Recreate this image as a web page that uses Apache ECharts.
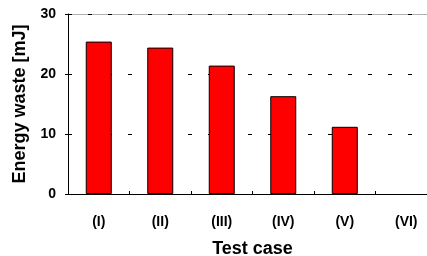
<!DOCTYPE html>
<html>
<head>
<meta charset="utf-8">
<script src="https://cdn.jsdelivr.net/npm/echarts@6/dist/echarts.min.js"></script>
<style>
  html, body { margin: 0; padding: 0; background: #fff; }
  #chart { width: 427px; height: 256px; }
</style>
</head>
<body>
<div id="chart"></div>
<script>
const categories = ['(I)', '(II)', '(III)', '(IV)', '(V)', '(VI)'];
const energyWaste = [25.4, 24.4, 21.4, 16.3, 11.2, 0];
const yTicks = { min: 0, max: 30, interval: 10 };

const font = "'Liberation Sans', Arial, sans-serif";

const chart = echarts.init(document.getElementById('chart'));

// zero-height bars get no outline (case VI shows nothing)
const barData = energyWaste.map(v => v === 0
  ? { value: v, itemStyle: { borderWidth: 0 } }
  : v);

const option = {
  animation: false,
  grid: {
    left: 68,
    top: 14,
    bottom: 62,
    width: 369, // plot runs past the right edge of the picture
    outerBoundsMode: 'none'
  },
  xAxis: {
    type: 'category',
    data: categories,
    name: 'Test case',
    nameLocation: 'middle',
    nameGap: 46,
    nameTextStyle: { fontFamily: font, fontWeight: 'bold', fontSize: 18, color: '#000' },
    axisLine: { lineStyle: { color: '#000', width: 1 } },
    axisTick: { show: true, inside: true, length: 3, alignWithLabel: false, lineStyle: { color: '#000' } },
    axisLabel: { fontFamily: font, fontWeight: 'bold', fontSize: 14, color: '#000', margin: 21 },
    splitLine: { show: false }
  },
  yAxis: {
    type: 'value',
    min: yTicks.min,
    max: yTicks.max,
    interval: yTicks.interval,
    name: 'Energy waste [mJ]',
    nameLocation: 'middle',
    nameGap: 38,
    nameTextStyle: { fontFamily: font, fontWeight: 'bold', fontSize: 18, color: '#000' },
    axisLine: { show: true, lineStyle: { color: '#000', width: 1 } },
    axisTick: { show: true, length: 3, lineStyle: { color: '#000' } },
    axisLabel: { fontFamily: font, fontWeight: 'bold', fontSize: 14, color: '#000', margin: 12 },
    splitLine: { show: true, lineStyle: { color: '#000', type: [4, 16], width: 1 } }
  },
  series: [
    {
      name: 'Energy waste',
      type: 'bar',
      data: barData,
      barWidth: 26,
      itemStyle: { color: '#ff0000', borderColor: '#000', borderWidth: 1 },
      // faint solid frame line along the top of the plot
      markLine: {
        silent: true,
        symbol: 'none',
        label: { show: false },
        lineStyle: { color: 'rgba(0,0,0,0.3)', type: 'solid', width: 1 },
        data: [{ yAxis: yTicks.max }]
      }
    }
  ]
};

chart.setOption(option);
</script>
</body>
</html>
